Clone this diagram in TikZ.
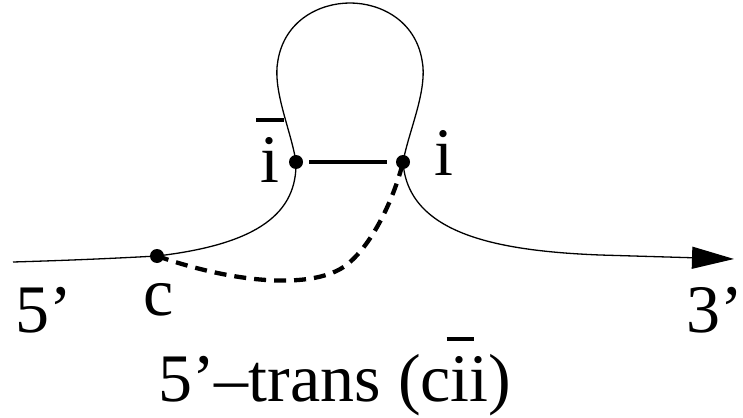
\documentclass[tikz,border=0pt]{standalone}
\usepackage{fontspec}
\setmainfont{Liberation Serif}
\usetikzlibrary{arrows.meta}
\newcommand\bari{\ooalign{i\cr\hidewidth\rule[0.88em]{0.4em}{0.055em}\hidewidth\cr}}
\tikzset{
  strand/.style={line width=1.3pt},
  pairline/.style={line width=4pt},
  tertiary/.style={line width=4.3pt, dash pattern=on 12pt off 8pt},
  dotnode/.style={circle, fill=black, inner sep=0pt, minimum size=14pt},
  lbl/.style={inner sep=0pt, anchor=base, font=\fontsize{68}{80}\selectfont},
}
\begin{document}
\begin{tikzpicture}[x=1pt,y=-1pt]
\useasboundingbox (0,0) rectangle (743,417);
\coordinate (start) at (13,262);
\coordinate (tip) at (734,259);
\node[dotnode] (c) at (157,256) {};
\node[dotnode] (ib) at (296,162) {};
\node[dotnode] (i) at (403,162) {};
% main strand
\draw[strand, -{Triangle[length=42pt,width=22pt]}]
  (start) .. controls (80,260) and (120,258) .. (c.center)
  .. controls (260,244) and (297,212) .. (ib.center)
  .. controls (291,130) and (272,90) .. (278,60)
  .. controls (285,20) and (320,3) .. (350,3)
  .. controls (380,3) and (415,20) .. (422,60)
  .. controls (428,90) and (409,130) .. (i.center)
  .. controls (408,235) and (500,251) .. (600,255)
  -- (tip);
% base pair
\path (ib.east) ++(6,0) coordinate (pa);
\path (i.west) ++(-9,0) coordinate (pb);
\draw[pairline] (pa) -- (pb);
% tertiary
\draw[tertiary] (c.center) .. controls (240,285) and (320,290) .. (350,262)
  .. controls (375,240) and (395,195) .. (i.center);
% labels
\node[lbl] (lib) at (270,182) {\bari};
\node[lbl] (li) at (444,175) {i};
\node[lbl] (lc) at (159,315) {c};
\node[lbl, anchor=base west] (l5) at (15,332) {5’};
\node[lbl, anchor=base west] (l3) at (686,332) {3’};
\node[lbl, anchor=base west] (cap) at (158,401) {5’–trans (c\bari i)};
\end{tikzpicture}
\end{document}
